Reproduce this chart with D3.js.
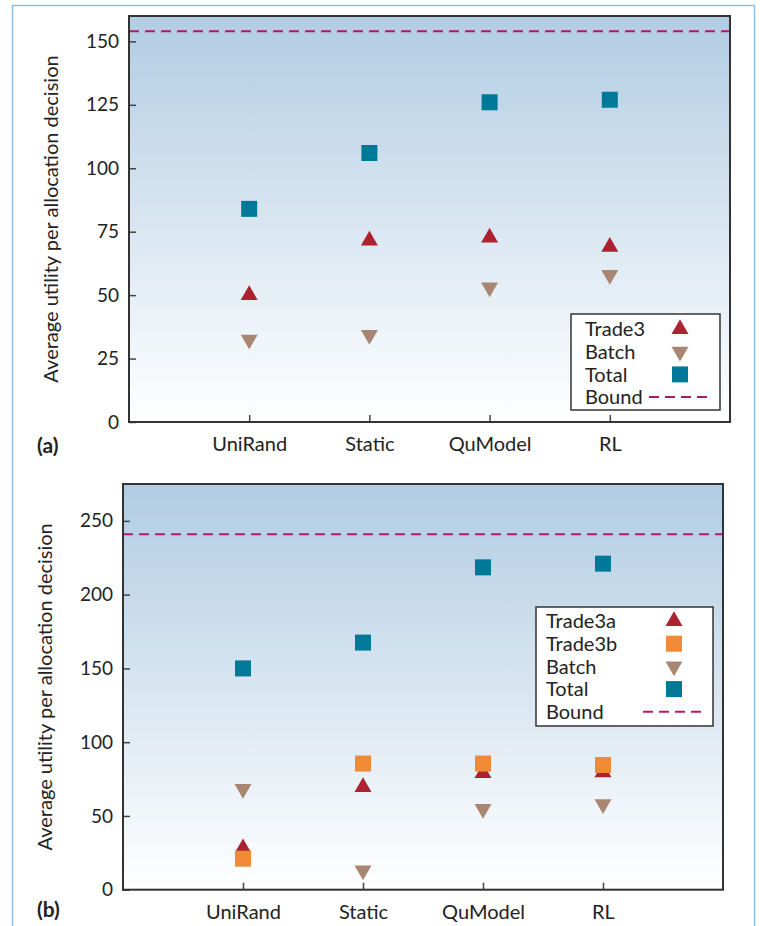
<!DOCTYPE html>
<html>
<head>
<meta charset="utf-8">
<script src="https://cdn.jsdelivr.net/npm/d3@7"></script>
<style>
  html, body { margin: 0; padding: 0; background: #fff; }
  svg { display: block; }
  text { font-family: Lato, "Open Sans", sans-serif; fill: #222; }
</style>
</head>
<body>
<svg id="chart" width="760" height="926"></svg>
<script>
// ---------- DATA ----------
const categories = ["UniRand", "Static", "QuModel", "RL"];

// Panel (a)
const aTrade3 = [50, 71.5, 72.7, 69];
const aBatch  = [32.5, 34.3, 53, 58];
const aTotal  = [84, 106, 126, 127];
const aBound  = 154;
const aTicks  = [0, 25, 50, 75, 100, 125, 150];

// Panel (b)
const bTrade3a = [28, 69.5, 79, 79.5];
const bTrade3b = [21, 85.5, 85.5, 84.5];
const bBatch   = [68.3, 13, 54.7, 58];
const bTotal   = [150, 167.5, 218.5, 221];
const bBound   = 241;
const bTicks   = [0, 50, 100, 150, 200, 250];

const yTitle = "Average utility per allocation decision";

// ---------- STYLE ----------
const colors = {
  trade3: "#ad2230",
  batch: "#a88672",
  total: "#007897",
  trade3b: "#f08a35",
  bound: "#b0186c"
};

const svg = d3.select("#chart");

// outer frame
svg.append("path")
  .attr("d", "M12.5,930 V5.5 H754.5 V930")
  .attr("fill", "none").attr("stroke", "#8dbde2").attr("stroke-width", 1.5);

const defs = svg.append("defs");
const grad = defs.append("linearGradient").attr("id", "bg")
  .attr("x1", 0).attr("y1", 0).attr("x2", 0).attr("y2", 1);
grad.append("stop").attr("offset", "0%").attr("stop-color", "#b1cce3");
grad.append("stop").attr("offset", "100%").attr("stop-color", "#ffffff");

const symTri = d3.symbol().type(d3.symbolTriangle).size(125);
const symSq = d3.symbol().type(d3.symbolSquare).size(256);

function drawPanel(cfg) {
  const { left, top, right, bottom, domainMax, ticks, series, bound, legend, label } = cfg;
  const g = svg.append("g");
  const x = d3.scaleLinear().domain([0, categories.length + 1]).range([left, right]);
  const y = d3.scaleLinear().domain([0, domainMax]).range([bottom, top]);

  g.append("rect")
    .attr("x", left).attr("y", top)
    .attr("width", right - left).attr("height", bottom - top)
    .attr("fill", "url(#bg)");

  // bound line
  g.append("line")
    .attr("x1", left).attr("x2", right)
    .attr("y1", y(bound)).attr("y2", y(bound))
    .attr("stroke", colors.bound).attr("stroke-width", 2)
    .attr("stroke-dasharray", "10,6");

  // y axis
  const yAxis = d3.axisLeft(y).tickValues(ticks).tickSizeInner(-7).tickSizeOuter(0).tickPadding(10);
  const ya = g.append("g").attr("transform", `translate(${left},0)`).call(yAxis);
  ya.select(".domain").remove();
  ya.selectAll(".tick line").attr("stroke", "#444").attr("stroke-width", 1.5);
  ya.selectAll(".tick text").style("font-family", "Lato, sans-serif").style("font-size", "19px").attr("fill", "#222");

  // x axis
  const xAxis = d3.axisBottom(x).tickValues(d3.range(1, categories.length + 1))
    .tickFormat(i => categories[i - 1]).tickSizeInner(-7).tickSizeOuter(0).tickPadding(15);
  const xa = g.append("g").attr("transform", `translate(0,${bottom})`).call(xAxis);
  xa.select(".domain").remove();
  xa.selectAll(".tick line").attr("stroke", "#444").attr("stroke-width", 1.5);
  xa.selectAll(".tick text").style("font-family", "Lato, sans-serif").style("font-size", "20px").attr("fill", "#222");

  // frame
  g.append("rect")
    .attr("x", left).attr("y", top)
    .attr("width", right - left).attr("height", bottom - top)
    .attr("fill", "none").attr("stroke", "#333").attr("stroke-width", 2);

  // series
  series.forEach(s => {
    g.selectAll(null).data(s.values).enter().append("path")
      .attr("d", s.shape === "sq" ? symSq : symTri)
      .attr("transform", (v, i) => `translate(${x(i + 1)},${y(v)})` + (s.shape === "down" ? " rotate(180)" : ""))
      .attr("fill", s.color);
  });

  // legend
  const lg = g.append("g");
  lg.append("rect")
    .attr("x", legend.x).attr("y", legend.y)
    .attr("width", legend.w).attr("height", legend.h)
    .attr("fill", "#fff").attr("stroke", "#333").attr("stroke-width", 1.5);
  legend.items.forEach((it, i) => {
    const cy = legend.y + legend.first + i * legend.step;
    lg.append("text").attr("x", legend.tx).attr("y", cy).attr("dy", "0.36em")
      .style("font-size", "20px").text(it.name);
    if (it.shape === "line") {
      lg.append("line").attr("x1", legend.lx1).attr("x2", legend.lx2)
        .attr("y1", cy).attr("y2", cy)
        .attr("stroke", it.color).attr("stroke-width", 2).attr("stroke-dasharray", "10,6");
    } else {
      lg.append("path")
        .attr("d", it.shape === "sq" ? symSq : symTri)
        .attr("transform", `translate(${legend.mx},${cy})` + (it.shape === "down" ? " rotate(180)" : ""))
        .attr("fill", it.color);
    }
  });

  // y title
  g.append("text")
    .attr("transform", `translate(${left - 71},${(top + bottom) / 2}) rotate(-90)`)
    .attr("text-anchor", "middle").style("font-size", "20px").text(yTitle);

  // panel label
  g.append("text").attr("x", 37).attr("y", label.y)
    .style("font-size", "21px").style("font-weight", "bold").text(label.text);
}

drawPanel({
  left: 129, top: 16, right: 730, bottom: 422,
  domainMax: 160, ticks: aTicks, bound: aBound,
  series: [
    { values: aTotal, shape: "sq", color: colors.total },
    { values: aBatch, shape: "down", color: colors.batch },
    { values: aTrade3, shape: "up", color: colors.trade3 }
  ],
  legend: {
    x: 571, y: 314, w: 149, h: 96, first: 15, step: 22.7, tx: 585, mx: 680, lx1: 649, lx2: 708,
    items: [
      { name: "Trade3", shape: "up", color: colors.trade3 },
      { name: "Batch", shape: "down", color: colors.batch },
      { name: "Total", shape: "sq", color: colors.total },
      { name: "Bound", shape: "line", color: colors.bound }
    ]
  },
  label: { text: "(a)", y: 453 }
});

drawPanel({
  left: 123, top: 484, right: 723, bottom: 889.7,
  domainMax: 275, ticks: bTicks, bound: bBound,
  series: [
    { values: bTotal, shape: "sq", color: colors.total },
    { values: bBatch, shape: "down", color: colors.batch },
    { values: bTrade3a, shape: "up", color: colors.trade3 },
    { values: bTrade3b, shape: "sq", color: colors.trade3b }
  ],
  legend: {
    x: 536, y: 607, w: 177, h: 119, first: 14, step: 22.7, tx: 546, mx: 674, lx1: 643, lx2: 703,
    items: [
      { name: "Trade3a", shape: "up", color: colors.trade3 },
      { name: "Trade3b", shape: "sq", color: colors.trade3b },
      { name: "Batch", shape: "down", color: colors.batch },
      { name: "Total", shape: "sq", color: colors.total },
      { name: "Bound", shape: "line", color: colors.bound }
    ]
  },
  label: { text: "(b)", y: 917 }
});
</script>
</body>
</html>
